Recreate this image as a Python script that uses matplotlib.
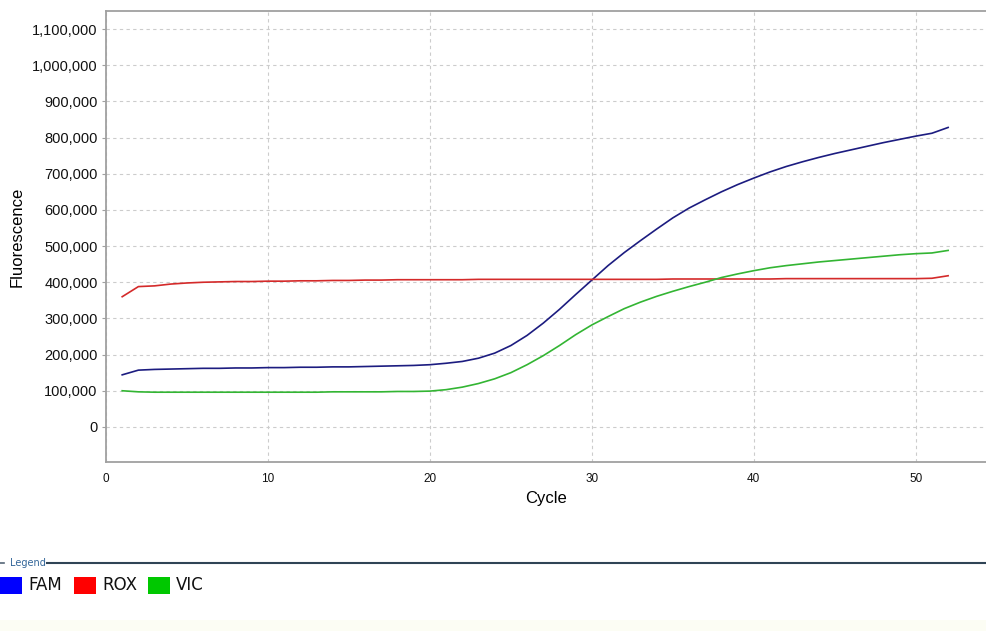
import numpy as np
import matplotlib
matplotlib.use("Agg")
import matplotlib.pyplot as plt
from matplotlib.patches import Rectangle
from matplotlib.ticker import FuncFormatter

# Amplification curves (cycles 1..52)
cycles = list(range(1, 53))

fam = [144, 157, 159, 160, 161, 162, 162, 163, 163, 164,
       164, 165, 165, 166, 166, 167, 168, 169, 170, 172,
       176, 181, 190, 204, 225, 253, 287, 325, 366, 406,
       446, 482, 515, 547, 578, 605, 628, 650, 670, 688,
       705, 720, 733, 745, 756, 766, 776, 786, 795, 804,
       812, 828]

rox = [360, 388, 390, 395, 398, 400, 401, 402, 402, 403,
       403, 404, 404, 405, 405, 406, 406, 407, 407, 407,
       407, 407, 408, 408, 408, 408, 408, 408, 408, 408,
       408, 408, 408, 408, 409, 409, 409, 409, 409, 409,
       409, 410, 410, 410, 410, 410, 410, 410, 410, 410,
       411, 418]

vic = [100, 97, 96, 96, 96, 96, 96, 96, 96, 96,
       96, 96, 96, 97, 97, 97, 97, 98, 98, 99,
       103, 110, 120, 133, 150, 172, 197, 225, 255, 282,
       305, 327, 345, 361, 375, 388, 400, 413, 423, 432,
       440, 446, 451, 456, 460, 464, 468, 472, 476, 479,
       481, 488]

series_names = ["FAM", "ROX", "VIC"]
line_colors = ["#1c1c80", "#d42a2a", "#33b533"]
patch_colors = ["#0000ff", "#ff0000", "#00c800"]

x_ticks = [0, 10, 20, 30, 40, 50]
y_ticks = list(range(0, 1100001, 100000))

plt.rcParams["font.family"] = ["Liberation Sans", "DejaVu Sans"]

fig = plt.figure(figsize=(9.87, 6.31), dpi=100)
ax = fig.add_axes([106 / 987, 1 - 462 / 631, 1 - 106 / 987, (462 - 11) / 631])

for vals, col in zip([fam, rox, vic], line_colors):
    ax.plot(cycles, np.array(vals) * 1000, color=col, lw=1.2)

ax.set_xlim(0, 54.4)
ax.set_ylim(-97000, 1150000)
ax.set_xticks(x_ticks)
ax.set_yticks(y_ticks)
ax.yaxis.set_major_formatter(FuncFormatter(lambda v, p: f"{int(v):,}"))
ax.grid(True, color="#cccccc", ls=(0, (3, 3)), lw=0.8)
ax.set_axisbelow(True)

ax.spines["right"].set_visible(False)
for side in ["left", "bottom", "top"]:
    ax.spines[side].set_color("#a0a0a0")
    ax.spines[side].set_linewidth(1.3)

ax.tick_params(axis="y", length=3, color="#a0a0a0", labelsize=10.5, pad=3, labelcolor="#111111")
ax.tick_params(axis="x", length=0, labelsize=8.5, pad=8, labelcolor="#111111")

ax.set_xlabel("Cycle", fontsize=12, labelpad=4)
ax.set_ylabel("Fluorescence", fontsize=12)
ax.yaxis.set_label_coords(-0.092, 0.5)

# Legend strip below the chart
fig.patches.append(Rectangle((0, 0), 1, 11 / 631, transform=fig.transFigure,
                             facecolor="#fcfdf4", edgecolor="none"))
fig.text(10 / 987, 1 - 563 / 631, "Legend", fontsize=7, color="#336699",
         va="center", ha="left", family=["DejaVu Sans"])
fig.add_artist(plt.Line2D([0, 4 / 987], [1 - 563 / 631] * 2, color="#556677", lw=1.2,
                          transform=fig.transFigure))
fig.add_artist(plt.Line2D([47 / 987, 1], [1 - 563 / 631] * 2, color="#2f4455", lw=1.5,
                          transform=fig.transFigure))

patch_x = [0, 74, 148]
for name, col, px in zip(series_names, patch_colors, patch_x):
    fig.patches.append(Rectangle((px / 987, 1 - 594 / 631), 22 / 987, 17 / 631,
                                 transform=fig.transFigure, facecolor=col, edgecolor="none"))
    fig.text((px + 28) / 987, 1 - 585 / 631, name, fontsize=12, va="center", ha="left",
             color="#111111", family=["DejaVu Sans"])

fig.savefig("out.png", dpi=100)
